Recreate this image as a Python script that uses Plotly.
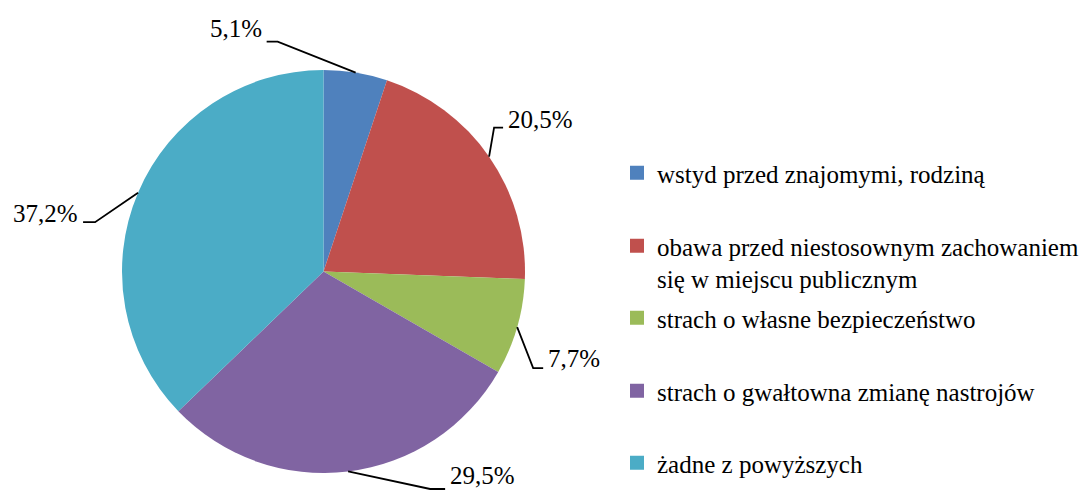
import math
import plotly.graph_objects as go

# ---- data ----
categories = [
    "wstyd przed znajomymi, rodziną",
    "obawa przed niestosownym zachowaniem<br>się w miejscu publicznym",
    "strach o własne bezpieczeństwo",
    "strach o gwałtowna zmianę nastrojów",
    "żadne z powyższych",
]
values = [5.1, 20.5, 7.7, 29.5, 37.2]

# ---- styling / layout ----
colors = ["#4F81BD", "#C0504D", "#9BBB59", "#8064A2", "#4BACC6"]
PAGE_W, PAGE_H = 1089, 491
OFF = 8                      # default page body margin
W, H = PAGE_W - OFF, PAGE_H - OFF
CX, CY, R = 323.5, 271.5, 201.5
FONT = "Liberation Serif"
# leader geometry per label: (dx to elbow, dy to elbow, horizontal length, text dy from segment)
leader = [(-78, -31, -11, -13), (5, -29, 9, -8), (16, 41, 10, -10),
          (82, 17.5, 15, -13), (-43, 29.5, -12, -8.5)]
legend_centers = [175, 248, 320, 393, 465]
legend_left = 617


def px(x):
    return (x - OFF) / W


def py(y):
    return 1 - (y - OFF) / H


fig = go.Figure()
fig.add_trace(go.Pie(
    labels=categories, values=values, sort=False, direction="clockwise",
    rotation=0, textinfo="none", showlegend=False,
    marker=dict(colors=colors, line=dict(width=0)),
    domain=dict(x=[px(CX - R), px(CX + R)], y=[py(CY + R), py(CY - R)]),
))

# data labels with leader lines, positioned from slice mid-angles
total = sum(values)
cum = 0.0
shapes, annotations = [], []
for v, (dx, dy, hl, tdy) in zip(values, leader):
    mid = (cum + v / 2) / total * 2 * math.pi
    cum += v
    ex, ey = CX + R * math.sin(mid), CY - R * math.cos(mid)
    bx, by = ex + dx, ey + dy
    fx = bx + hl
    shapes.append(dict(
        type="path", xref="paper", yref="paper",
        path=f"M {px(ex)},{py(ey)} L {px(bx)},{py(by)} L {px(fx)},{py(by)}",
        line=dict(color="black", width=1.8),
    ))
    label = f"{v:.1f}".replace(".", ",") + "%"
    annotations.append(dict(
        text=label, xref="paper", yref="paper",
        x=px(fx + (3 if hl > 0 else -3)), y=py(by + tdy),
        xanchor="left" if hl > 0 else "right", yanchor="middle",
        showarrow=False, font=dict(family=FONT, size=25, color="black"),
    ))

# legend entries (one small legend each, to reproduce spacing)
layout_legends = {}
for i, (cat, col, cy) in enumerate(zip(categories, colors, legend_centers)):
    key = "legend" if i == 0 else f"legend{i + 1}"
    fig.add_trace(go.Scatter(
        x=[None], y=[None], mode="markers", name=cat, legend=key,
        marker=dict(symbol="square", size=14, color=col, line=dict(width=0)),
        showlegend=True, hoverinfo="skip",
    ))
    layout_legends[key] = dict(
        x=px(legend_left), y=py(cy - 25), xanchor="left", yanchor="top",
        font=dict(family=FONT, size=25, color="#000000"),
        bgcolor="rgba(0,0,0,0)", valign="top", itemclick=False,
        itemdoubleclick=False,
    )

fig.update_layout(
    width=W, height=H, margin=dict(l=0, r=0, t=0, b=0),
    paper_bgcolor="white", plot_bgcolor="white",
    xaxis=dict(visible=False), yaxis=dict(visible=False),
    shapes=shapes, annotations=annotations,
    **layout_legends,
)

fig.write_html("out.html")
